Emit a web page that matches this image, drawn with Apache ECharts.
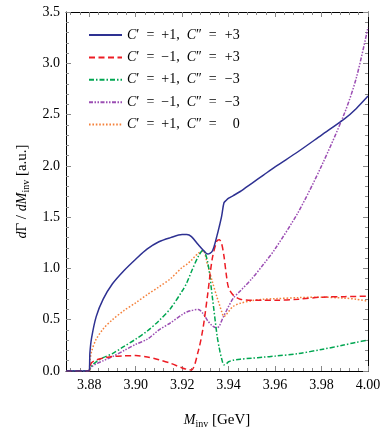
<!DOCTYPE html>
<html>
<head>
<meta charset="utf-8">
<script src="https://cdn.jsdelivr.net/npm/echarts@6/dist/echarts.min.js"></script>
<style>
  html, body { margin: 0; padding: 0; background: #fff; }
  #spectrum { width: 391px; height: 432px; }
</style>
</head>
<body>
<div id="spectrum"></div>
<script>
// invariant mass grid [GeV]
const mInv = [3.870, 3.8799, 3.8803, 3.881, 3.883, 3.886, 3.890, 3.895, 3.900, 3.905, 3.910, 3.915, 3.920, 3.922, 3.924, 3.927, 3.929, 3.931, 3.933, 3.935, 3.936, 3.937, 3.938, 3.939, 3.940, 3.942, 3.945, 3.950, 3.955, 3.960, 3.970, 3.980, 3.990, 3.995, 4.000];

// dGamma/dM_inv for each (C', C'') choice
const pp3 = [0, 0, 0.18, 0.32, 0.53, 0.70, 0.85, 0.98, 1.09, 1.19, 1.26, 1.30, 1.33, 1.33, 1.31, 1.23, 1.18, 1.14, 1.17, 1.32, 1.41, 1.51, 1.64, 1.665, 1.685, 1.71, 1.75, 1.83, 1.91, 1.99, 2.14, 2.30, 2.46, 2.56, 2.68];
const mp3 = [0, 0, 0.04, 0.08, 0.107, 0.125, 0.142, 0.148, 0.15, 0.137, 0.11, 0.075, 0.03, 0.017, 0.01, 0.2, 0.42, 0.75, 1.10, 1.27, 1.28, 1.24, 1.12, 0.94, 0.81, 0.74, 0.70, 0.69, 0.69, 0.69, 0.70, 0.72, 0.725, 0.727, 0.73];
const pm3 = [0, 0, 0.025, 0.05, 0.09, 0.13, 0.17, 0.24, 0.31, 0.39, 0.49, 0.61, 0.78, 0.86, 0.97, 1.12, 1.18, 1.06, 0.72, 0.35, 0.22, 0.12, 0.06, 0.07, 0.09, 0.105, 0.115, 0.125, 0.135, 0.145, 0.17, 0.21, 0.255, 0.28, 0.30];
const mm3 = [0, 0, 0.02, 0.04, 0.07, 0.10, 0.14, 0.20, 0.26, 0.31, 0.40, 0.47, 0.55, 0.575, 0.59, 0.60, 0.56, 0.49, 0.44, 0.42, 0.44, 0.49, 0.54, 0.585, 0.63, 0.71, 0.78, 0.90, 1.04, 1.19, 1.55, 2.00, 2.52, 2.86, 3.35];
const p0 = [0, 0, 0.10, 0.19, 0.31, 0.41, 0.50, 0.59, 0.665, 0.745, 0.82, 0.90, 1.01, 1.04, 1.08, 1.15, 1.17, 1.03, 0.87, 0.72, 0.65, 0.58, 0.53, 0.55, 0.58, 0.63, 0.66, 0.685, 0.70, 0.705, 0.715, 0.72, 0.71, 0.70, 0.68];

const cPrime = ['+1', '\u22121', '+1', '\u22121', '+1'];
const cDouble = ['+3', '+3', '\u22123', '\u22123', '0'];

const xTicks = [3.88, 3.90, 3.92, 3.94, 3.96, 3.98, 4.00];
const xMinor = [3.872, 3.876, 3.884, 3.888, 3.892, 3.896, 3.904, 3.908, 3.912, 3.916, 3.924, 3.928, 3.932, 3.936, 3.944, 3.948, 3.952, 3.956, 3.964, 3.968, 3.972, 3.976, 3.984, 3.988, 3.992, 3.996];

const curves = [pp3, mp3, pm3, mm3, p0];
const colors = ['#2e3192', '#ed1c24', '#00a651', '#9b4db3', '#f5823c'];
const dashes = ['solid', [6, 3.5], [5, 2, 1.5, 2], [4, 1.5, 1.5, 1.5, 1.5, 1.5], [1.6, 1.8]];

const serif = 'Liberation Serif';
const rich = {
  i: { fontFamily: serif, fontStyle: 'italic', fontSize: 14, color: '#000' },
  s: { fontFamily: serif, fontSize: 10, color: '#000', padding: [7, 0, 0, 0] },
  n: { fontFamily: serif, fontSize: 14, color: '#000', width: 16, align: 'right' }
};

const names = curves.map((c, k) => 'c' + k);

function xAxisDef(pos, ticks, len, labels) {
  return {
    type: 'value', position: pos, min: 3.87, max: 4.0,
    splitLine: { show: false },
    axisLine: { show: labels !== null, onZero: false, lineStyle: { color: '#000', width: 1 } },
    axisTick: { inside: true, length: len, customValues: ticks, lineStyle: { color: '#888', width: 1 } },
    axisLabel: labels ? {
      customValues: ticks, margin: 7, color: '#000', fontFamily: serif, fontSize: 14,
      formatter: v => v.toFixed(2)
    } : { show: false }
  };
}

function yAxisDef(pos, labels) {
  return {
    type: 'value', position: pos, min: 0, max: 3.5, interval: 0.5,
    splitLine: { show: false },
    axisLine: { show: true, lineStyle: { color: '#000', width: 1 } },
    axisTick: { inside: true, length: 5, lineStyle: { color: '#888', width: 1 } },
    minorTick: { show: true, splitNumber: 5, length: 3, lineStyle: { color: '#888', width: 1 } },
    axisLabel: labels ? {
      margin: 6, color: '#000', fontFamily: serif, fontSize: 14,
      formatter: v => v.toFixed(1)
    } : { show: false }
  };
}

const xBottom = xAxisDef('bottom', xTicks, 5, true);
xBottom.name = '{i|M}{s|inv} [GeV]';
xBottom.nameLocation = 'middle';
xBottom.nameGap = 41;
xBottom.nameTextStyle = { fontFamily: serif, fontSize: 15, color: '#000', rich: rich };

const yLeft = yAxisDef('left', true);
yLeft.name = '{i|d}\u0393 / {i|dM}{s|inv} [a.u.]';
yLeft.nameLocation = 'middle';
yLeft.nameGap = 35;
yLeft.nameRotate = 90;
yLeft.nameTextStyle = { fontFamily: serif, fontSize: 15, color: '#000', rich: rich };

const option = {
  animation: false,
  grid: { left: 66, right: 23, top: 12, bottom: 61, outerBoundsMode: 'none' },
  xAxis: [
    xBottom,
    xAxisDef('bottom', xMinor, 3, null),
    xAxisDef('top', xTicks, 5, false),
    xAxisDef('top', xMinor, 3, null)
  ],
  yAxis: [yLeft, yAxisDef('right', false)],
  legend: {
    orient: 'vertical', left: 88, top: 28, padding: 0,
    itemWidth: 33, itemHeight: 14, itemGap: 8.4,
    data: names,
    itemStyle: { opacity: 0 },
    textStyle: { fontFamily: serif, fontSize: 14, color: '#000', lineHeight: 14, rich: rich },
    formatter: name => {
      const k = names.indexOf(name);
      return '{i|C}\u2032  =  ' + cPrime[k] + ',  {i|C}\u2033  =  {n|' + cDouble[k] + '}';
    }
  },
  series: curves.map((c, k) => ({
    name: names[k],
    type: 'line',
    xAxisIndex: 0, yAxisIndex: 0,
    data: mInv.map((m, j) => [m, c[j]]),
    showSymbol: false, symbol: 'none',
    smooth: 0.3,
    color: colors[k],
    lineStyle: { color: colors[k], width: 1.5, type: dashes[k] },
    z: 10 - k
  }))
};

const chart = echarts.init(document.getElementById('spectrum'));
chart.setOption(option);
</script>
</body>
</html>
